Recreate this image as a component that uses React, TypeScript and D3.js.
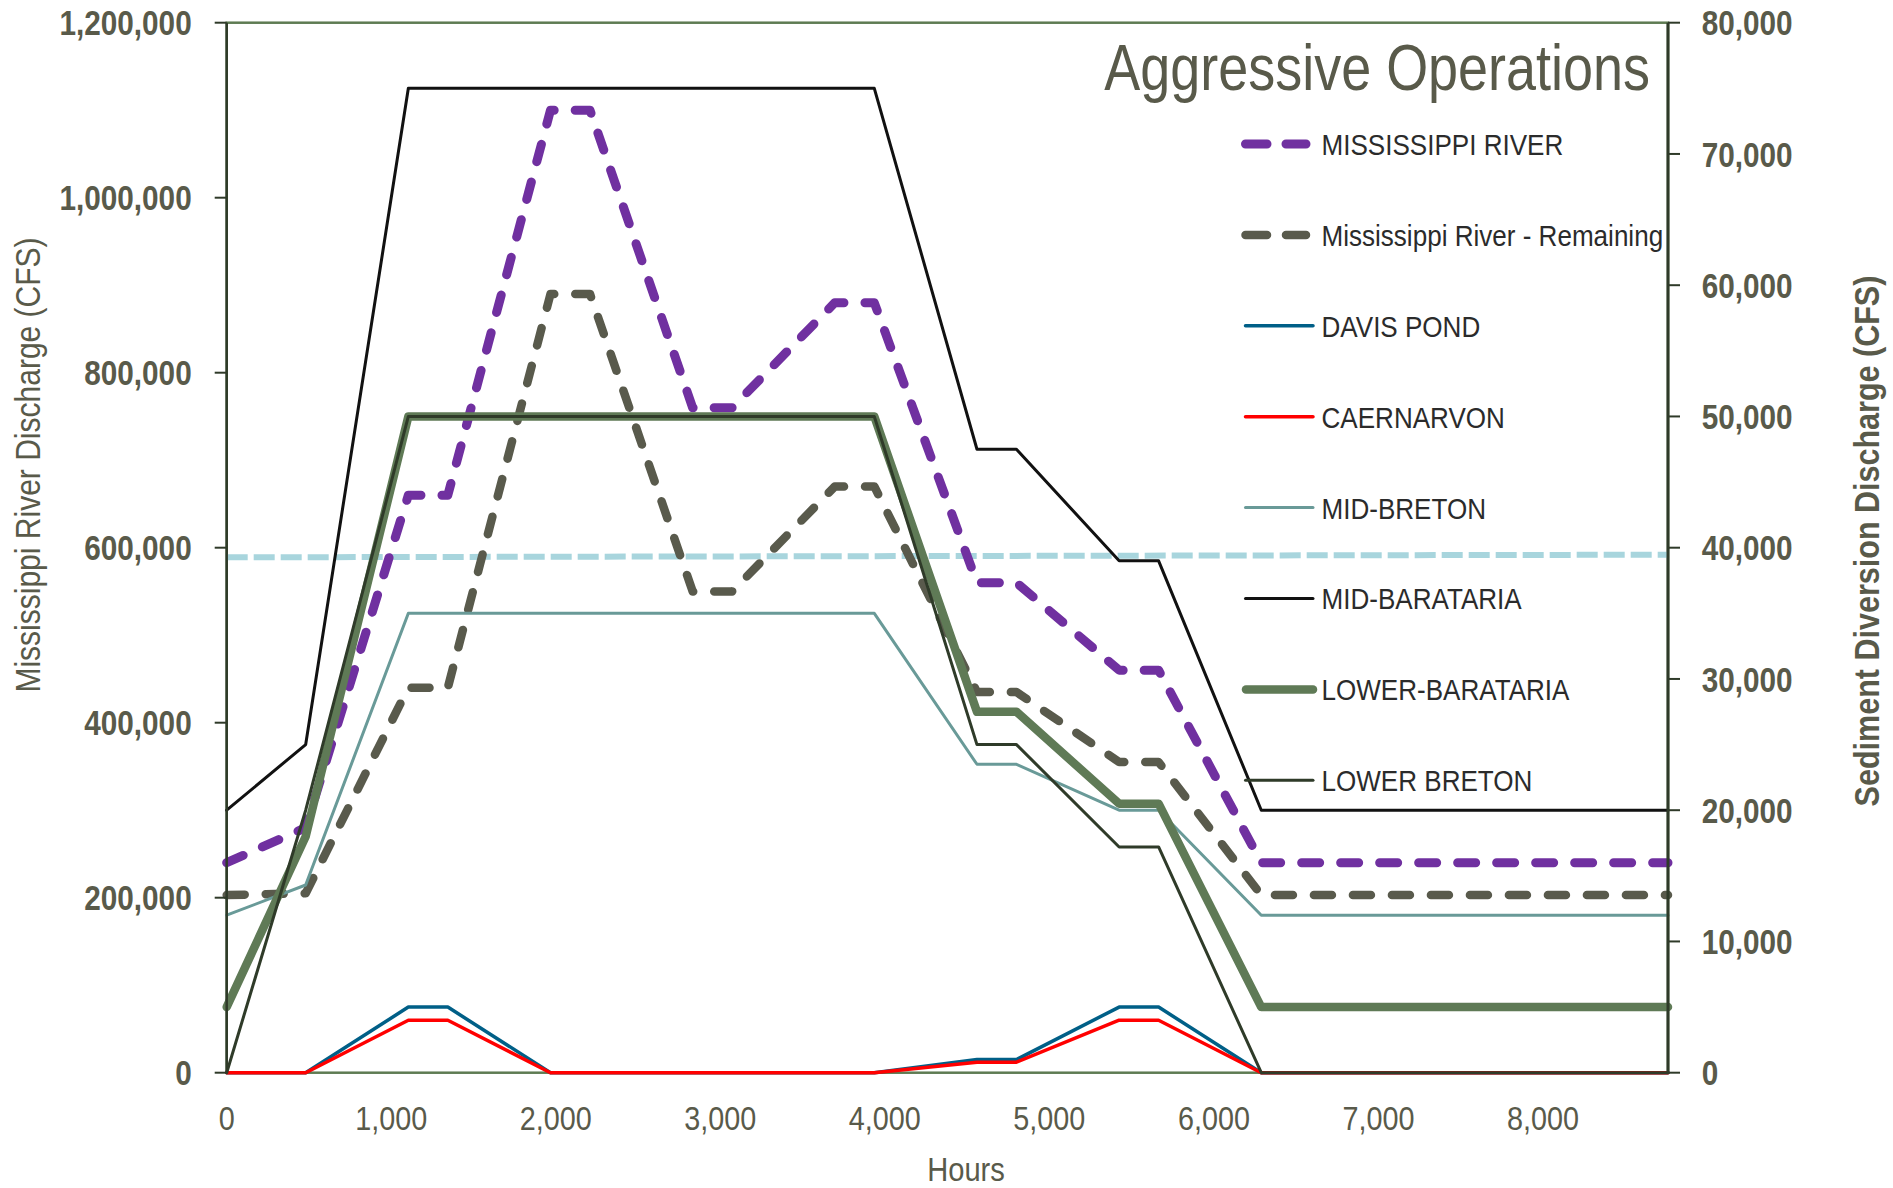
import React from 'react';
import * as d3 from 'd3';

// ---- Data ----
const HOURS = [0, 480, 1104, 1344, 1968, 2208, 2832, 3072, 3696, 3936, 4560, 4800, 5424, 5664, 6288, 8760];

const MISSISSIPPI_RIVER = [240000, 280000, 660000, 660000, 1100000, 1100000, 760000, 760000, 880000, 880000, 560000, 560000, 460000, 460000, 240000, 240000];
const MISSISSIPPI_REMAINING = [203000, 205000, 440000, 440000, 890000, 890000, 550000, 550000, 670000, 670000, 435000, 435000, 355000, 355000, 203000, 203000];

const DAVIS_POND = [0, 0, 5000, 5000, 0, 0, 0, 0, 0, 0, 1000, 1000, 5000, 5000, 0, 0];
const CAERNARVON = [0, 0, 4000, 4000, 0, 0, 0, 0, 0, 0, 800, 800, 4000, 4000, 0, 0];
const MID_BRETON = [12000, 14300, 35000, 35000, 35000, 35000, 35000, 35000, 35000, 35000, 23500, 23500, 20000, 20000, 12000, 12000];
const MID_BARATARIA = [20000, 25000, 75000, 75000, 75000, 75000, 75000, 75000, 75000, 75000, 47500, 47500, 39000, 39000, 20000, 20000];
const LOWER_BARATARIA = [5000, 18000, 50000, 50000, 50000, 50000, 50000, 50000, 50000, 50000, 27500, 27500, 20500, 20500, 5000, 5000];
const LOWER_BRETON = [0, 20000, 50000, 50000, 50000, 50000, 50000, 50000, 50000, 50000, 25000, 25000, 17200, 17200, 0, 0];

const THRESHOLD_HOURS = [0, 8760];
const THRESHOLD_VALUES = [589000, 592000];

const X_TICKS = [0, 1000, 2000, 3000, 4000, 5000, 6000, 7000, 8000];
const LEFT_TICKS = [0, 200000, 400000, 600000, 800000, 1000000, 1200000];
const RIGHT_TICKS = [0, 10000, 20000, 30000, 40000, 50000, 60000, 70000, 80000];

const TITLE = 'Aggressive Operations';
const X_TITLE = 'Hours';
const LEFT_TITLE = 'Mississippi River Discharge (CFS)';
const RIGHT_TITLE = 'Sediment Diversion Discharge (CFS)';

const FONT = "'Liberation Sans', Arial, sans-serif";
const AXIS_TEXT = '#595a4a';
const LEGEND_TEXT = '#2b2b2b';

type Series = {
  name: string;
  values: number[];
  axis: 'L' | 'R';
  color: string;
  width: number;
  dash?: string;
};

const LEFT_SERIES: Series[] = [
  { name: 'MISSISSIPPI RIVER', values: MISSISSIPPI_RIVER, axis: 'L', color: '#7030a0', width: 9, dash: '18 21' },
  { name: 'Mississippi River - Remaining', values: MISSISSIPPI_REMAINING, axis: 'L', color: '#595a4c', width: 8.5, dash: '18 21' },
];

const RIGHT_SERIES: Series[] = [
  { name: 'DAVIS POND', values: DAVIS_POND, axis: 'R', color: '#005f87', width: 3.5 },
  { name: 'CAERNARVON', values: CAERNARVON, axis: 'R', color: '#ff0000', width: 3.5 },
  { name: 'MID-BRETON', values: MID_BRETON, axis: 'R', color: '#699a98', width: 3 },
  { name: 'MID-BARATARIA', values: MID_BARATARIA, axis: 'R', color: '#111111', width: 3 },
  { name: 'LOWER-BARATARIA', values: LOWER_BARATARIA, axis: 'R', color: '#5f7a56', width: 8.5 },
  { name: 'LOWER BRETON', values: LOWER_BRETON, axis: 'R', color: '#2f3b29', width: 3 },
];

// Condensed text: Liberation Sans squeezed horizontally around its anchor point.
function NText(props: {
  x: number;
  y: number;
  size: number;
  sx: number;
  anchor?: 'start' | 'middle' | 'end';
  weight?: string;
  fill: string;
  rotate?: number;
  dy?: string;
  children: React.ReactNode;
}) {
  const { x, y, size, sx, anchor = 'start', weight = 'normal', fill, rotate = 0, dy, children } = props;
  return (
    <text
      transform={`translate(${x},${y}) rotate(${rotate}) scale(${sx},1)`}
      textAnchor={anchor}
      fontSize={size}
      fontWeight={weight}
      fill={fill}
      dy={dy}
      fontFamily={FONT}
    >
      {children}
    </text>
  );
}

export default function App() {
  const W = 1893;
  const H = 1188;
  const left = 226.7;
  const right = 1668;
  const top = 22.7;
  const bottom = 1072.7;

  const x = d3.scaleLinear().domain([0, 8760]).range([left, right]);
  const yL = d3.scaleLinear().domain([0, 1200000]).range([bottom, top]);
  const yR = d3.scaleLinear().domain([0, 80000]).range([bottom, top]);

  const pathFor = (s: Series) =>
    d3
      .line<number>()
      .x((_, i) => x(HOURS[i]))
      .y((d) => (s.axis === 'L' ? yL(d) : yR(d)))(s.values) || '';

  const thresholdPath =
    d3
      .line<number>()
      .x((_, i) => x(THRESHOLD_HOURS[i]))
      .y((d) => yL(d))(THRESHOLD_VALUES) || '';

  const fmt = d3.format(',');

  const legendItems = [...LEFT_SERIES, ...RIGHT_SERIES];
  const legendY0 = 144;
  const legendStep = 90.9;

  return (
    <svg
      width={W}
      height={H}
      style={{ position: 'absolute', left: 0, top: 0, display: 'block', background: '#fff' }}
      fontFamily={FONT}
    >
      <rect x={0} y={0} width={W} height={H} fill="#fff" />

      {/* plot border */}
      <rect x={left} y={top} width={right - left} height={bottom - top} fill="none" stroke="#5e7b52" strokeWidth={2.5} />

      {/* threshold dashed line */}
      <path d={thresholdPath} fill="none" stroke="#a8d5dd" strokeWidth={6} strokeDasharray="21 6" />

      {/* left-axis series */}
      {LEFT_SERIES.map((s) => (
        <path
          key={s.name}
          d={pathFor(s)}
          fill="none"
          stroke={s.color}
          strokeWidth={s.width}
          strokeDasharray={s.dash}
          strokeLinecap="round"
          strokeLinejoin="round"
        />
      ))}

      {/* right-axis series */}
      {RIGHT_SERIES.map((s) => (
        <path
          key={s.name}
          d={pathFor(s)}
          fill="none"
          stroke={s.color}
          strokeWidth={s.width}
          strokeLinejoin="round"
          strokeLinecap="round"
        />
      ))}

      {/* axis lines */}
      <line x1={left} x2={left} y1={top} y2={bottom} stroke="#2f3a29" strokeWidth={2.5} />
      <line x1={right} x2={right} y1={top} y2={bottom} stroke="#2f3a29" strokeWidth={3} />

      {/* left ticks */}
      {LEFT_TICKS.map((t) => (
        <g key={'l' + t}>
          <line x1={left - 12} x2={left} y1={yL(t)} y2={yL(t)} stroke="#2f3a29" strokeWidth={2} />
          <NText x={191.7} y={yL(t)} dy="0.36em" anchor="end" size={35} sx={0.85} weight="bold" fill={AXIS_TEXT}>
            {fmt(t)}
          </NText>
        </g>
      ))}

      {/* right ticks */}
      {RIGHT_TICKS.map((t) => (
        <g key={'r' + t}>
          <line x1={right} x2={right + 12} y1={yR(t)} y2={yR(t)} stroke="#2f3a29" strokeWidth={2} />
          <NText x={1701.7} y={yR(t)} dy="0.36em" anchor="start" size={35} sx={0.85} weight="bold" fill={AXIS_TEXT}>
            {fmt(t)}
          </NText>
        </g>
      ))}

      {/* x ticks */}
      {X_TICKS.map((t) => (
        <NText key={'x' + t} x={x(t)} y={1130} anchor="middle" size={32.7} sx={0.88} fill={AXIS_TEXT}>
          {fmt(t)}
        </NText>
      ))}

      {/* axis titles */}
      <NText x={966} y={1181} anchor="middle" size={32.7} sx={0.89} fill={AXIS_TEXT}>
        {X_TITLE}
      </NText>
      <NText x={40} y={465} rotate={-90} anchor="middle" size={34.5} sx={0.87} fill={AXIS_TEXT}>
        {LEFT_TITLE}
      </NText>
      <NText x={1879} y={541} rotate={-90} anchor="middle" size={35.5} sx={0.86} weight="bold" fill={AXIS_TEXT}>
        {RIGHT_TITLE}
      </NText>

      {/* chart title */}
      <NText x={1650} y={90} anchor="end" size={65} sx={0.83} fill={AXIS_TEXT}>
        {TITLE}
      </NText>

      {/* legend */}
      {legendItems.map((s, i) => {
        const cy = legendY0 + i * legendStep;
        return (
          <g key={'lg' + s.name}>
            {s.dash ? (
              <line
                x1={1245.5}
                x2={1306}
                y1={cy}
                y2={cy}
                stroke={s.color}
                strokeWidth={s.width}
                strokeDasharray="21.5 19"
                strokeLinecap="round"
              />
            ) : (
              <line
                x1={s.width > 5 ? 1246 : 1245.5}
                x2={1313}
                y1={cy}
                y2={cy}
                stroke={s.color}
                strokeWidth={s.width}
                strokeLinecap="round"
              />
            )}
            <NText x={1321.5} y={cy} dy="0.36em" size={30.3} sx={0.86} fill={LEGEND_TEXT}>
              {s.name}
            </NText>
          </g>
        );
      })}
    </svg>
  );
}
